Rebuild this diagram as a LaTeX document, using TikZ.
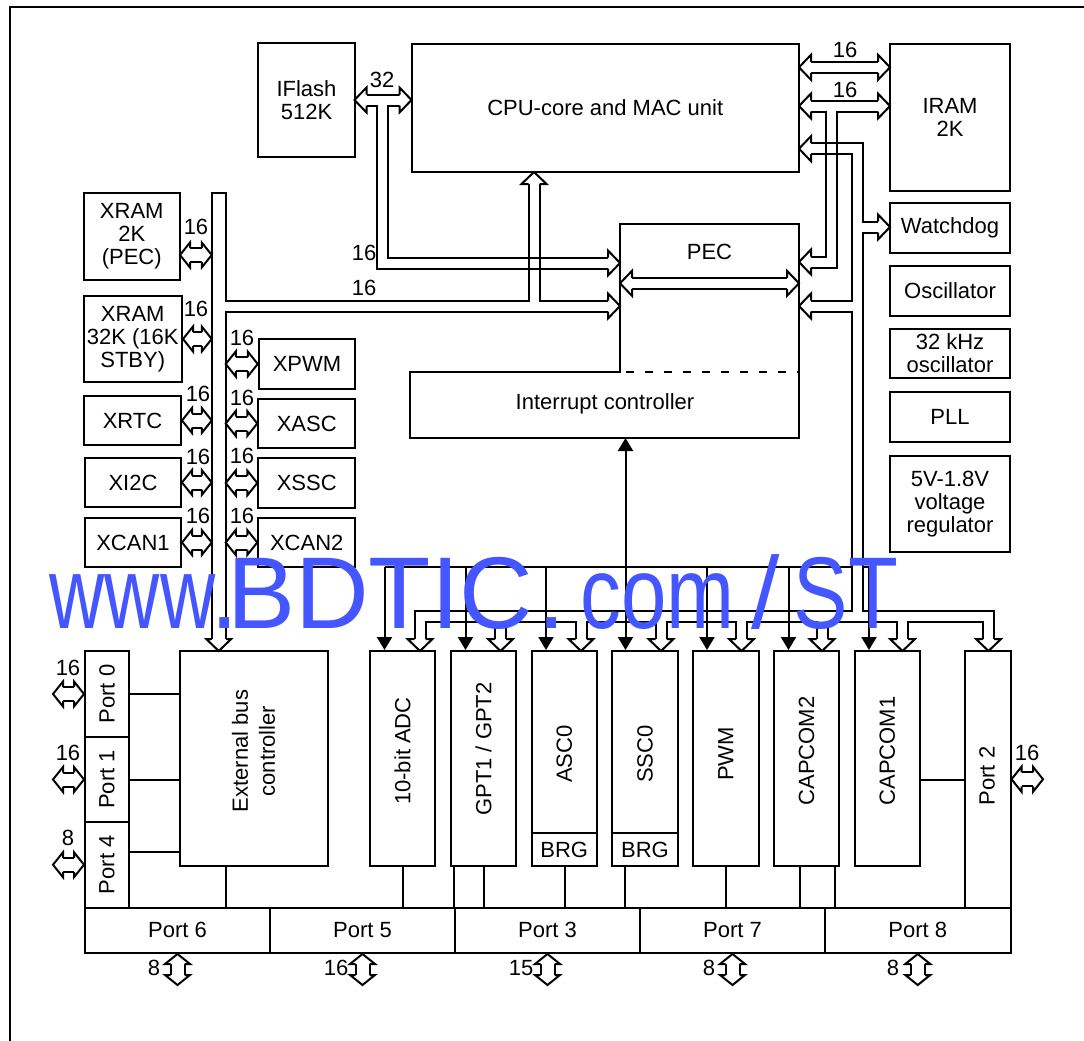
\documentclass[tikz,border=0pt]{standalone}
\usepackage{fontspec}
\setmainfont{Liberation Sans}
\usetikzlibrary{calc,arrows.meta}
\definecolor{wmblue}{RGB}{68,86,255}

% hollow bus heads and short double buses
\def\hlen{12pt}
\newcommand\bushead[3][5.5]{%
  \path ($(#3)!\hlen!(#2)$) coordinate (hb);
  \filldraw[busend] ($(hb)!#1pt!90:(#3)$) -- ($(hb)!12.5pt!90:(#3)$) -- (#3)
    -- ($(hb)!12.5pt!-90:(#3)$) -- ($(hb)!#1pt!-90:(#3)$);}
\newcommand\busdbl[3][5.5]{%
  \draw[busedge,line width=2*#1+2] ($(#2)!\hlen!(#3)$) -- ($(#3)!\hlen!(#2)$);
  \draw[busfill,line width=2*#1-2] ($(#2)!\hlen!(#3)$) -- ($(#3)!\hlen!(#2)$);
  \bushead[#1]{#2}{#3}\bushead[#1]{#3}{#2}}
\newcommand\smallbus[2]{\begingroup\def\hlen{10pt}\busdbl[7]{#1}{#2}\endgroup}

\begin{document}
\begin{tikzpicture}[x=1pt,y=-1pt,line width=2pt,
  blk/.style={draw,line width=2pt,inner sep=0pt,align=center,font=\fontsize{22}{23}\selectfont},
  txt/.style={inner sep=0pt,align=center,font=\fontsize{22}{23}\selectfont},
  busedge/.style={draw=black,line width=13pt,line cap=butt,line join=miter},
  busfill/.style={draw=white,line width=9pt,line cap=butt,line join=miter},
  busend/.style={draw=black,fill=white,line width=2pt,line join=miter},
  sig/.style={line width=2pt,-{Triangle[width=15pt,length=13pt]}},
  wm/.style={inner sep=0pt,anchor=base west,text=wmblue,font=\fontsize{102}{102}\selectfont}]
\useasboundingbox (0,0) rectangle (1084,1041);
\fill[white] (0,0) rectangle (1084,1041);
\draw (10,1045) -- (10,7) -- (1090,7);

% core, memories and system blocks
\node[blk, minimum width=97, minimum height=114] (iflash) at (306.5,100) {IFlash\\512K};
\node[blk, minimum width=387.5, minimum height=128] (cpu) at (605.25,108) {CPU-core and MAC unit};
\node[blk, minimum width=120, minimum height=147] (iram) at (950,117.5) {IRAM\\2K};
\node[blk, minimum width=120, minimum height=50] (wdog) at (950,228) {Watchdog};
\node[blk, minimum width=120, minimum height=50] (osc) at (950,291) {Oscillator};
\node[blk, minimum width=120, minimum height=49] (osc32) at (950,353.5) {32 kHz\\oscillator};
\node[blk, minimum width=120, minimum height=50] (pll) at (950,417) {PLL};
\node[blk, minimum width=120, minimum height=96] (vreg) at (950,504) {5V-1.8V\\voltage\\regulator};

% PEC and interrupt controller
\draw (620,224) -- (799,224) -- (799,438) -- (410,438) -- (410,372) -- (620,372) -- cycle;
\draw[dash pattern=on 8pt off 11pt] (626,372) -- (799,372);
\node[txt] (pec) at (709.5,252) {PEC};
\node[txt] (intc) at (605,404) {Interrupt controller};

% X-peripherals
\node[blk, minimum width=96.5, minimum height=87] (xram2) at (131.75,236.5) {XRAM\\2K\\(PEC)};
\node[blk, minimum width=98.5, minimum height=86] (xram32) at (132.75,339) {XRAM\\32K (16K\\STBY)};
\node[blk, minimum width=97, minimum height=49] (xrtc) at (132.5,420.5) {XRTC};
\node[blk, minimum width=96, minimum height=49] (xitwoc) at (133,482.5) {XI2C};
\node[blk, minimum width=96, minimum height=49] (xcan1) at (133,542.5) {XCAN1};
\node[blk, minimum width=96.5, minimum height=50] (xpwm) at (307,364) {XPWM};
\node[blk, minimum width=97, minimum height=49] (xasc) at (306.75,423.5) {XASC};
\node[blk, minimum width=97, minimum height=50] (xssc) at (306.75,483) {XSSC};
\node[blk, minimum width=97, minimum height=49] (xcan2) at (306.75,542.5) {XCAN2};

% peripherals
\node[blk, minimum width=148.5, minimum height=215] (ebc) at (253.75,758.5) {};
\node[txt, rotate=90, font=\fontsize{22}{27}\selectfont] (tebc) at (253.5,751) {External bus\\controller};
\node[blk, minimum width=65.5, minimum height=215] (adc) at (402.5,758.5) {};
\node[txt, rotate=90] (tadc) at (adc.center |- 0,751) {10-bit ADC};
\node[blk, minimum width=65.5, minimum height=215] (gpt) at (483.5,758.5) {};
\node[txt, rotate=90] (tgpt) at (gpt.center |- 0,749) {GPT1 / GPT2};
\node[blk, minimum width=65.5, minimum height=215] (asc) at (564.25,758.5) {};
\node[blk, minimum width=65.5, minimum height=33] (brgasc) at (564.25,849.5) {BRG};
\node[txt, rotate=90] (tasc) at (asc.center |- 0,754) {ASC0};
\node[blk, minimum width=65.5, minimum height=215] (ssc) at (645,758.5) {};
\node[blk, minimum width=65.5, minimum height=33] (brgssc) at (645,849.5) {BRG};
\node[txt, rotate=90] (tssc) at (ssc.center |- 0,754) {SSC0};
\node[blk, minimum width=65.5, minimum height=215] (pwm) at (725.75,758.5) {};
\node[txt, rotate=90] (tpwm) at (pwm.center |- 0,754) {PWM};
\node[blk, minimum width=65.5, minimum height=215] (capcom2) at (806.5,758.5) {};
\node[txt, rotate=90] (tcapcom2) at (capcom2.center |- 0,751) {CAPCOM2};
\node[blk, minimum width=65.5, minimum height=215] (capcom1) at (887.25,758.5) {};
\node[txt, rotate=90] (tcapcom1) at (capcom1.center |- 0,751) {CAPCOM1};

% ports
\node[blk, minimum width=44, minimum height=86] (port0) at (107,694) {};
\node[txt, rotate=90] (tport0) at (port0) {Port 0};
\node[blk, minimum width=44, minimum height=85] (port1) at (107,779.5) {};
\node[txt, rotate=90] (tport1) at (port1) {Port 1};
\node[blk, minimum width=44, minimum height=85.5] (port4) at (107,864.75) {};
\node[txt, rotate=90] (tport4) at (port4) {Port 4};
\node[blk, minimum width=45.5, minimum height=256.5] (porttwo) at (987.75,779.25) {};
\node[txt, rotate=90] (tporttwo) at (987,776) {Port 2};
\node[blk, minimum width=185, minimum height=45.5] (port6) at (177.5,930.25) {Port 6};
\node[blk, minimum width=185, minimum height=45.5] (port5) at (362.5,930.25) {Port 5};
\node[blk, minimum width=185, minimum height=45.5] (port3) at (547.5,930.25) {Port 3};
\node[blk, minimum width=185, minimum height=45.5] (port7) at (732.5,930.25) {Port 7};
\node[blk, minimum width=185.5, minimum height=45.5] (port8) at (917.75,930.25) {Port 8};

% plain links to the ports
\draw (port0.east) -- (port0.east -| ebc.west);
\draw (port1.east) -- (port1.east -| ebc.west);
\draw (port4.east |- 0,852) -- (ebc.west |- 0,852);
\draw (ebc.south -| 226,0) -- (port6.north -| 226,0);
\draw (adc.south -| 403,0) -- (port5.north -| 403,0);
\draw (gpt.south -| 453.5,0) -- (port3.north -| 453.5,0);
\draw (gpt.south -| 484,0) -- (port3.north -| 484,0);
\draw (brgasc.south -| 565,0) -- (port3.north -| 565,0);
\draw (brgssc.south -| 625,0) -- (port3.north -| 625,0);
\draw (pwm.south -| 726,0) -- (port7.north -| 726,0);
\draw (capcom2.south -| 800,0) -- (port7.north -| 800,0);
\draw (capcom2.south -| 834.5,0) -- (port8.north -| 834.5,0);
\draw (capcom1.east |- 0,780) -- (porttwo.west |- 0,780);

% interrupt request line
\draw (384.5,567) -- (869,567);
\draw[sig] (625.5,567) -- (625.5,438);

% 32 bit bus IFlash - CPU - PEC
\draw[busedge] (366.5,100) -- (399.5,100) (382.5,100) -- (382.5,263) -- (608,263);
\draw[busfill] (366.5,100) -- (399.5,100) (382.5,100) -- (382.5,263) -- (608,263);
% XBUS and CPU - PEC bus
\draw[busedge,line width=16pt] (218.75,192) -- (218.75,639);
\draw[busedge] (218.75,306) -- (608,306) (534,306) -- (534,184);
\draw[busfill,line width=12pt] (218.75,194) -- (218.75,639);
\draw[busfill] (218.75,306) -- (608,306) (534,306) -- (534,184);
\draw (528.5,257.5) -- (539.5,257.5) (528.5,268.5) -- (539.5,268.5);
% peripheral bus
\draw[busedge] (811,148.7) -- (857.5,148.7) -- (857.5,616.5)
  (857.5,227) -- (878,227) (857.5,306) -- (811,306)
  (420,639) -- (420,616.5) -- (988.5,616.5) -- (988.5,639)
  (500.5,616.5) -- (500.5,639) (581,616.5) -- (581,639) (661,616.5) -- (661,639)
  (741.5,616.5) -- (741.5,639) (822,616.5) -- (822,639) (902.5,616.5) -- (902.5,639);
\draw[busfill] (811,148.7) -- (857.5,148.7) -- (857.5,616.5)
  (857.5,227) -- (878,227) (857.5,306) -- (811,306)
  (420,639) -- (420,616.5) -- (988.5,616.5) -- (988.5,639)
  (500.5,616.5) -- (500.5,639) (581,616.5) -- (581,639) (661,616.5) -- (661,639)
  (741.5,616.5) -- (741.5,639) (822,616.5) -- (822,639) (902.5,616.5) -- (902.5,639);
% IRAM bus to PEC
\draw[busedge] (811,106) -- (878,106) (831.5,106) -- (831.5,262) -- (811,262);
\draw[busfill] (811,106) -- (878,106) (831.5,106) -- (831.5,262) -- (811,262);
\draw (826,143.2) -- (837,143.2) (826,154.2) -- (837,154.2);
\busdbl{799,67.3}{890,67.3}
\busdbl{620,283.3}{799,283.3}

\bushead{382.5,100}{354.5,100}
\bushead{382.5,100}{411.5,100}
\bushead{382.5,263}{620,263}
\bushead[7]{218.75,306}{218.75,651}
\bushead{218.75,306}{620,306}
\bushead{534,306}{534,172}
\bushead{857.5,148.7}{799,148.7}
\bushead{857.5,227}{890,227}
\bushead{857.5,306}{799,306}
\bushead{831.5,106}{799,106}
\bushead{831.5,106}{890,106}
\bushead{831.5,262}{799,262}
\bushead{420,616.5}{420,651}
\bushead{500.5,616.5}{500.5,651}
\bushead{581,616.5}{581,651}
\bushead{661,616.5}{661,651}
\bushead{741.5,616.5}{741.5,651}
\bushead{822,616.5}{822,651}
\bushead{902.5,616.5}{902.5,651}
\bushead{988.5,616.5}{988.5,651}

% short buses
\smallbus{180,255}{211.75,255}
\smallbus{xram32.east}{211.75,339}
\smallbus{xrtc.east}{211.75,420.5}
\smallbus{xitwoc.east}{211.75,482.5}
\smallbus{xcan1.east}{211.75,542.5}
\smallbus{225.75,364}{xpwm.west}
\smallbus{225.75,423.5}{xasc.west}
\smallbus{225.75,483}{xssc.west}
\smallbus{225.75,542.5}{xcan2.west}
\smallbus{53,694}{port0.west}
\smallbus{53,779.5}{port1.west}
\smallbus{53,864.75}{port4.west}
\smallbus{porttwo.east}{1043,779.25}
\smallbus{port6.south}{177.5,985}
\smallbus{port5.south}{362.5,985}
\smallbus{port3.south}{547.5,985}
\smallbus{port7.south}{732.5,985}
\smallbus{port8.south}{917.75,985}

% interrupt requests
\draw[sig] (384.5,567) -- (adc.north -| 384.5,0);
\draw[sig] (465.5,567) -- (gpt.north -| 465.5,0);
\draw[sig] (546,567) -- (asc.north -| 546,0);
\draw[sig] (625.5,567) -- (ssc.north -| 625.5,0);
\draw[sig] (707,567) -- (pwm.north -| 707,0);
\draw[sig] (788.5,567) -- (capcom2.north -| 788.5,0);
\draw[sig] (869,567) -- (capcom1.north -| 869,0);

% bus widths
\node[txt] (w32) at (382,80) {32};
\node[txt] (w16a) at (364,253) {16};
\node[txt] (w16b) at (364,288) {16};
\node[txt] (w16c) at (845,50) {16};
\node[txt] (w16d) at (845,90) {16};
\node[txt] (w16e) at (196,227) {16};
\node[txt] (w16f) at (196,309) {16};
\node[txt] (w16g) at (198,394) {16};
\node[txt] (w16h) at (198,457) {16};
\node[txt] (w16i) at (198,516) {16};
\node[txt] (w16j) at (242,338) {16};
\node[txt] (w16k) at (242,398) {16};
\node[txt] (w16l) at (242,456) {16};
\node[txt] (w16m) at (242,516) {16};
\node[txt] (w16n) at (68,668) {16};
\node[txt] (w16o) at (68,753) {16};
\node[txt] (w8a) at (68,838) {8};
\node[txt] (w16p) at (1027,753) {16};
\node[txt] (w8b) at (154,968) {8};
\node[txt] (w16q) at (336,968) {16};
\node[txt] (w15) at (521,968) {15};
\node[txt] (w8c) at (709,968) {8};
\node[txt] (w8d) at (893,968) {8};

% watermark
\node[wm, xscale=0.75] (wma) at (49,628) {www};
\node[wm] (wmb) at (209,628) {.};
\node[wm] (wmc) at (226,628) {BDTIC};
\node[wm] (wmd) at (536,628) {.};
\node[wm, xscale=0.8] (wme) at (580,628) {com};
\node[wm] (wmf) at (750,628) {/};
\node[wm, xscale=0.8] (wmg) at (793,628) {ST};
\end{tikzpicture}
\end{document}
